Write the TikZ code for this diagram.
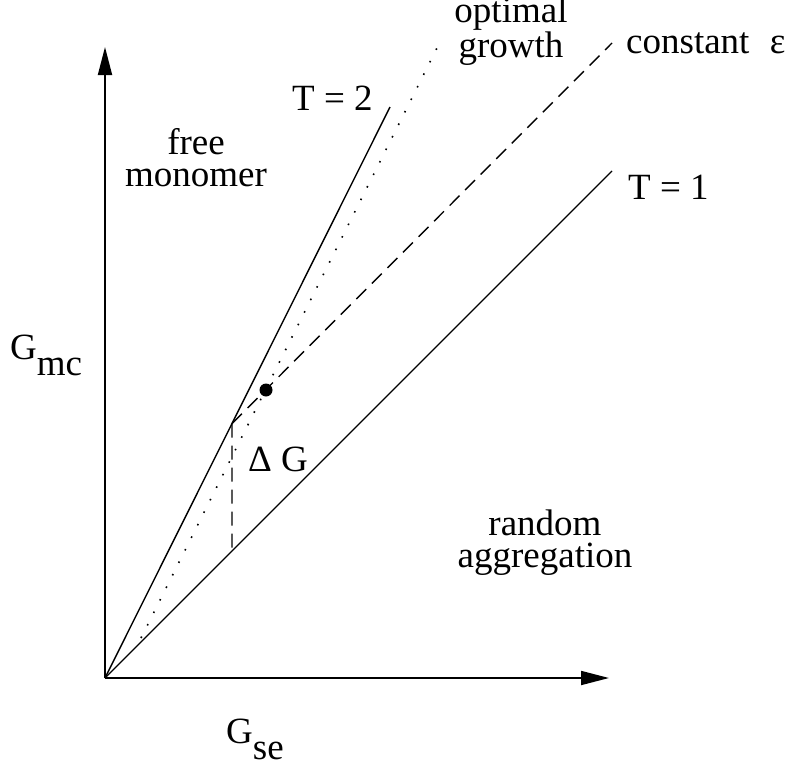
\documentclass[tikz,border=0pt]{standalone}
\usepackage{fontspec}
\setmainfont{Liberation Serif}
\usetikzlibrary{arrows.meta,calc}
\begin{document}
\begin{tikzpicture}[x=1pt,y=-1pt,
  lbl/.style={font=\fontsize{37}{32}\selectfont,inner sep=0pt},
  axis/.style={line width=1.8pt,-{Triangle[length=28pt,width=14pt]}},
  thin/.style={line width=1.4pt},
  dsh/.style={line width=1.4pt,dash pattern=on 14pt off 8pt},
  dtd/.style={line width=1.6pt,dash pattern=on 1.6pt off 12.4pt}]
\useasboundingbox (0,0) rectangle (796,763);
\coordinate (O) at (105,678);
\coordinate (ytip) at (105,47);
\coordinate (xtip) at (609,678);
\coordinate (t2end) at (390,107);
\coordinate (t1end) at (612,171);
\coordinate (A) at ($(O)!0.4456!(t2end)$);
\coordinate (B) at (232,551);
\coordinate (eend) at (612,43);
\coordinate (gs) at (141,638);
\coordinate (ge) at (440,42);
\draw[axis] (O) -- (ytip);
\draw[axis] (O) -- (xtip);
\draw[thin] (O) -- (t2end);
\draw[thin] (O) -- (t1end);
\draw[dsh] (A) -- (eend);
\draw[dsh] (A) -- (B);
\draw[dtd] (gs) -- (ge);
\fill (266,390) circle[radius=6.5pt];
\node[lbl,anchor=base west] (t2) at (292,110) {T = 2};
\node[lbl,anchor=base west] (t1) at (628,199) {T = 1};
\node[lbl,anchor=base west] (ce) at (626,53) {constant\hspace{0.55em}ε};
\node[lbl,anchor=base,align=center,font=\fontsize{37}{29}\selectfont] (og) at (511,57) {optimal\\growth};
\node[lbl,anchor=base,align=center] (fm) at (196,186) {free\\monomer};
\node[lbl,anchor=base,align=center] (ra) at (545,567) {random\\aggregation};
\node[lbl,anchor=base west] (dg) at (248,471) {Δ G};
\node[lbl,anchor=base west] (gmc) at (10,359) {G\raisebox{-16pt}{mc}};
\node[lbl,anchor=base west] (gse) at (226,743) {G\raisebox{-16pt}{se}};
\end{tikzpicture}
\end{document}
